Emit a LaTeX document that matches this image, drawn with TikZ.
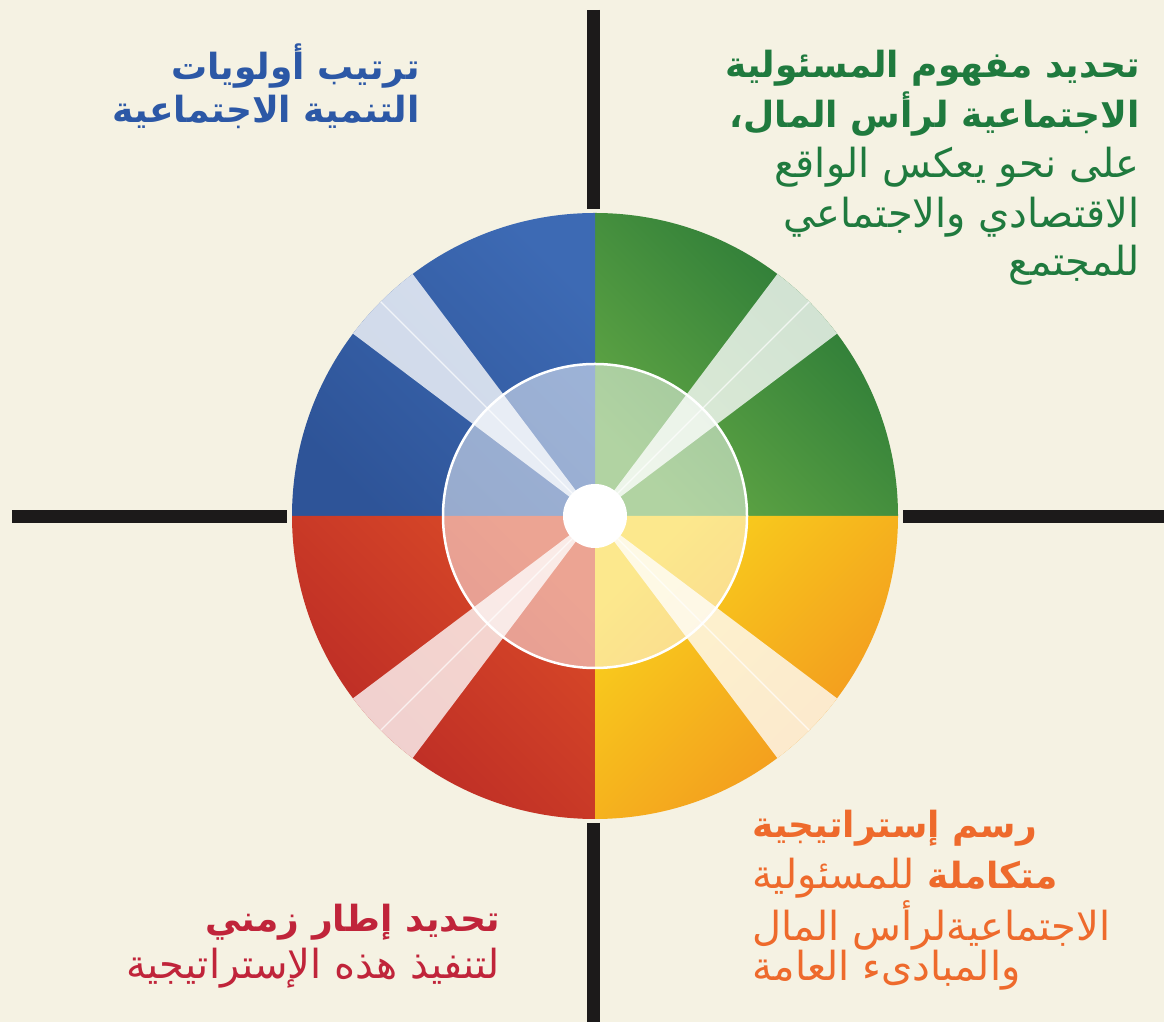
\documentclass[tikz,border=0pt]{standalone}
\usepackage{fontspec}
\newfontfamily\arabicfont[Script=Arabic]{DejaVu Sans}
\TeXXeTstate=1
\definecolor{bg}{HTML}{F5F2E3}
\definecolor{gdark}{HTML}{267636}
\definecolor{glight}{HTML}{63A845}
\definecolor{bdark}{HTML}{2E5498}
\definecolor{blight}{HTML}{3D6AB4}
\definecolor{rdark}{HTML}{B82826}
\definecolor{rlight}{HTML}{DA4A27}
\definecolor{ydark}{HTML}{F2921F}
\definecolor{ylight}{HTML}{F9D21C}
\definecolor{tgreen}{HTML}{1F7A3E}
\definecolor{tblue}{HTML}{2C58A6}
\definecolor{tred}{HTML}{C0243A}
\definecolor{torange}{HTML}{EE6A2C}
\definecolor{axisblack}{HTML}{1C1A1A}
\tikzset{
  axisline/.style={draw=axisblack, line width=13pt},
  beam/.style={fill=white, fill opacity=0.78},
  beamline/.style={draw=white, draw opacity=0.7, line width=1.3pt},
  boldtxt/.style={inner sep=0pt, font={\fontsize{36}{42}\selectfont\arabicfont\bfseries}},
  regtxt/.style={inner sep=0pt, font={\fontsize{40}{46}\selectfont\arabicfont}},
}
\begin{document}
\begin{tikzpicture}[x=1pt,y=1pt]
\fill[bg] (0,0) rectangle (1164,1022);
\useasboundingbox (0,0) rectangle (1164,1022);
\coordinate (C) at (595,506);
% axes
\coordinate (vt) at (593,1012);
\coordinate (vtb) at (593,813);
\coordinate (vb) at (593,0);
\coordinate (vbt) at (593,199);
\coordinate (hl) at (12,505);
\coordinate (hlr) at (287,505);
\coordinate (hr) at (1164,505);
\coordinate (hrl) at (903,505);
\draw[axisline] (vt) -- (vtb);
\draw[axisline] (vbt) -- (vb);
\draw[axisline] (hl) -- (hlr);
\draw[axisline] (hrl) -- (hr);
% quadrants
\shade[top color=gdark, bottom color=glight, shading angle=-45]
  (C) -- ++(0:303) arc[start angle=0, end angle=90, radius=303] -- cycle;
\shade[top color=blight, bottom color=bdark, shading angle=-45]
  (C) -- ++(90:303) arc[start angle=90, end angle=180, radius=303] -- cycle;
\shade[top color=rlight, bottom color=rdark, shading angle=-45]
  (C) -- ++(180:303) arc[start angle=180, end angle=270, radius=303] -- cycle;
\shade[top color=ylight, bottom color=ydark, shading angle=45]
  (C) -- ++(270:303) arc[start angle=270, end angle=360, radius=303] -- cycle;
% inner disc
\fill[white, fill opacity=0.5] (C) circle[radius=152];
% beams
\foreach \a in {45,135,225,315}{
  \fill[beam] (C) -- ++(\a-8:303) arc[start angle=\a-8, end angle=\a+8, radius=303] -- cycle;
  \draw[beamline] (C) -- ++(\a:303);
}
\draw[white, line width=2.5pt] (C) circle[radius=152];
\fill[white] (C) circle[radius=32];
% texts top right (green)
\node[boldtxt, text=tgreen, anchor=east] (g1) at (1140,954) {\beginR تحديد مفهوم المسئولية\endR};
\node[boldtxt, text=tgreen, anchor=east] (g2) at (1140,908) {\beginR الاجتماعية لرأس المال،\endR};
\node[regtxt, text=tgreen, anchor=east] (g3) at (1140,855) {\beginR على نحو يعكس الواقع\endR};
\node[regtxt, text=tgreen, anchor=east] (g4) at (1140,805) {\beginR الاقتصادي والاجتماعي\endR};
\node[regtxt, text=tgreen, anchor=east] (g5) at (1140,757) {\beginR للمجتمع\endR};
% top left (blue)
\node[boldtxt, text=tblue, anchor=east] (b1) at (420,956) {\beginR ترتيب أولويات\endR};
\node[boldtxt, text=tblue, anchor=east] (b2) at (420,910) {\beginR التنمية الاجتماعية\endR};
% bottom right (orange)
\node[boldtxt, text=torange, anchor=west] (o1) at (752,194) {\beginR رسم إستراتيجية\endR};
\node[regtxt, text=torange, anchor=west] (o2) at (752,144) {\beginR{\bfseries\fontsize{36}{42}\selectfont متكاملة} للمسئولية\endR};
\node[regtxt, text=torange, anchor=west] (o3) at (752,97) {\beginR الاجتماعيةلرأس المال\endR};
\node[regtxt, text=torange, anchor=west] (o4) at (752,52) {\beginR والمبادىء العامة\endR};
% bottom left (red)
\node[boldtxt, text=tred, anchor=east] (r1) at (500,100) {\beginR تحديد إطار زمني\endR};
\node[regtxt, text=tred, anchor=east] (r2) at (500,54) {\beginR لتنفيذ هذه الإستراتيجية\endR};
\end{tikzpicture}
\end{document}
